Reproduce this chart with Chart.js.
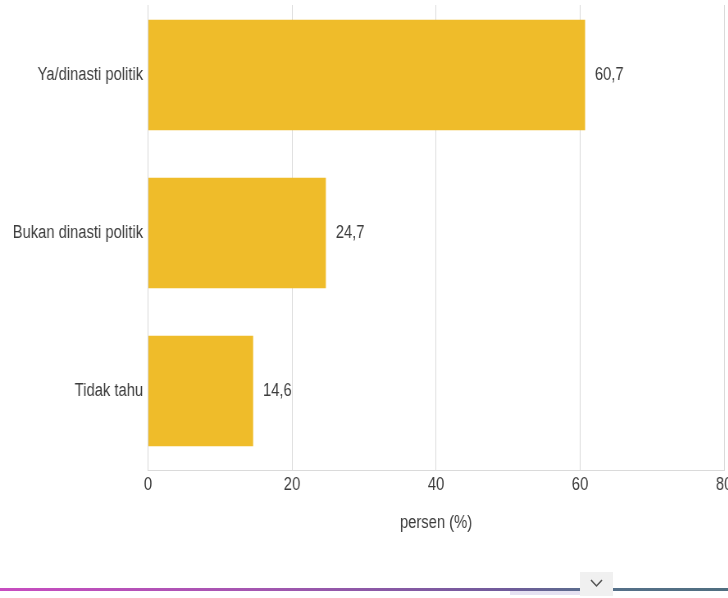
<!DOCTYPE html>
<html>
<head>
<meta charset="utf-8">
<script src="https://cdn.jsdelivr.net/npm/chart.js@4.4.1/dist/chart.umd.min.js"></script>
<style>
  html, body { margin: 0; padding: 0; background: #fff; width: 728px; height: 598px; overflow: hidden; }
  #wrap { position: absolute; left: 0; top: -4px; width: 927px; height: 560px; transform: scaleX(0.82); transform-origin: 0 0; }
  #topmask { position: absolute; left: 0; top: 0; width: 728px; height: 5px; background: #fff; }
  #line { position: absolute; left: 0; top: 588px; width: 728px; height: 3px;
    background: linear-gradient(to right, #c84cc0 0%, #a456b0 35%, #6f5b9a 70%, #56708a 82%, #4f6e80 100%); }
  #shadow { position: absolute; left: 510px; top: 591px; width: 72px; height: 4px; background: #e6e2f2; }
  #btn { position: absolute; left: 580px; top: 572px; width: 33px; height: 24px; background: #f0f0f0; }
</style>
</head>
<body>
<div id="wrap"><canvas id="c" width="927" height="560"></canvas></div>
<div id="topmask"></div>
<div id="line"></div>
<div id="shadow"></div>
<div id="btn"><svg width="33" height="24"><polyline points="11,8 16.5,14 22,8" fill="none" stroke="#555" stroke-width="1.5"/></svg></div>
<script>
const categories = ["Ya/dinasti politik", "Bukan dinasti politik", "Tidak tahu"];
const values = [60.7, 24.7, 14.6];
const xTicks = [0, 20, 40, 60, 80];
const axisTitle = "persen (%)";

const FONT = '"Liberation Sans", Arial, sans-serif';
const TEXT = '#3c3c3c';

const valueLabels = {
  id: 'valueLabels',
  afterDatasetsDraw(chart) {
    const ctx = chart.ctx;
    const meta = chart.getDatasetMeta(0);
    ctx.save();
    ctx.font = '18px ' + FONT;
    ctx.fillStyle = TEXT;
    ctx.textAlign = 'left';
    ctx.textBaseline = 'middle';
    meta.data.forEach((bar, i) => {
      const txt = values[i].toFixed(1).replace('.', ',');
      ctx.fillText(txt, bar.x + 12, bar.y);
    });
    ctx.restore();
  }
};

new Chart(document.getElementById('c'), {
  type: 'bar',
  data: {
    labels: categories,
    datasets: [{
      data: values,
      backgroundColor: '#efbc2a',
      borderWidth: 0,
      barPercentage: 0.7,
      categoryPercentage: 1.0
    }]
  },
  plugins: [valueLabels],
  options: {
    indexAxis: 'y',
    responsive: false,
    animation: false,
    layout: { padding: { top: 0, right: 44, bottom: 0, left: 0 } },
    plugins: { legend: { display: false }, tooltip: { enabled: false } },
    scales: {
      x: {
        min: 0, max: 80,
        afterBuildTicks(scale) { scale.ticks = xTicks.map(v => ({ value: v })); },
        afterFit(scale) { scale.height = 86; scale.paddingLeft = 0; scale.paddingRight = 0; },
        grid: { color: '#dadada', drawTicks: false, lineWidth: 1 },
        border: { color: '#dadada' },
        ticks: { color: TEXT, font: { family: FONT, size: 18 }, padding: 4 },
        title: { display: true, text: axisTitle, color: TEXT, font: { family: FONT, size: 18 }, padding: { top: 0, bottom: 22 } }
      },
      y: {
        afterFit(scale) { scale.width = 180.5; scale.paddingTop = 0; scale.paddingBottom = 0; },
        grid: { display: false, drawTicks: false },
        border: { display: false },
        ticks: { color: TEXT, font: { family: FONT, size: 18 }, padding: 6 }
      }
    }
  }
});
</script>
</body>
</html>
